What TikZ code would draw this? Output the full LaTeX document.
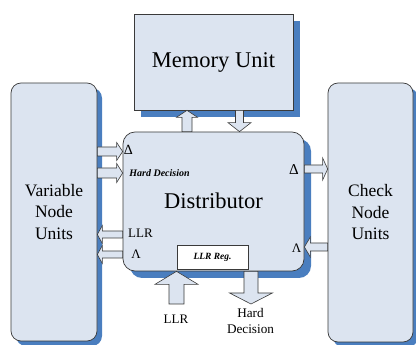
\documentclass[tikz,border=0pt]{standalone}
\usepackage{fontspec}
\setmainfont{Liberation Serif}
\usetikzlibrary{calc,shadows}
\definecolor{boxfill}{HTML}{DCE4F0}
\definecolor{shadowblue}{HTML}{4A7EBF}
\definecolor{edge}{HTML}{3A3A3A}
\tikzset{
  unit/.style={draw=edge, line width=0.7pt, fill=boxfill, inner sep=0pt, align=center,
    drop shadow={shadow xshift=#1, shadow yshift=-#1, fill=shadowblue, opacity=1}},
  unit/.default=6pt,
  regbox/.style={draw=edge, line width=0.6pt, fill=white, inner sep=0pt,
    font=\fontsize{9.5}{11}\selectfont\bfseries\itshape},
  lbl/.style={inner sep=0pt, font=\fontsize{13}{15}\selectfont},
  arrowbody/.style={draw=edge, line width=0.6pt, fill=boxfill, line join=miter},
}
% block arrow: #1 tail, #2 tip, #3 half shaft width, #4 half head width, #5 head length
\newcommand{\blockarrow}[5]{%
  \path ($(#2)!#5!(#1)$) coordinate (ba-c);
  \draw[arrowbody] ($(#1)!#3!90:(#2)$) -- ($(ba-c)!#3!90:(#2)$) -- ($(ba-c)!#4!90:(#2)$)
    -- (#2) -- ($(ba-c)!#4!-90:(#2)$) -- ($(ba-c)!#3!-90:(#2)$) -- ($(#1)!#3!-90:(#2)$) -- cycle;}
\begin{document}
\begin{tikzpicture}[x=1pt,y=-1pt]
\useasboundingbox (0,0) rectangle (416,345);

% main blocks
\node[unit=7pt, minimum width=159pt, minimum height=96pt,
  font=\fontsize{22.5}{27}\selectfont] (mem) at (213.5,62) {Memory Unit};
\node[unit=5pt, rounded corners=10pt, minimum width=86pt, minimum height=258pt,
  font=\fontsize{17.5}{21.5}\selectfont] (vnu) at (54,212) {Variable\\Node\\Units};
\node[unit=5pt, rounded corners=10pt, minimum width=85pt, minimum height=259pt,
  font=\fontsize{17.5}{21.5}\selectfont] (cnu) at (370.5,212.5) {Check\\Node\\Units};
\node[unit=7pt, rounded corners=12pt, minimum width=181pt, minimum height=139pt] (dist) at (213.5,201.5) {};
\node[font=\fontsize{22.5}{27}\selectfont, inner sep=0pt] (distname) at (213.5,201) {Distributor};
\node[regbox, minimum width=71pt, minimum height=24pt] (reg) at (212.5,257) {LLR Reg.};

% arrow end points
\coordinate (upA) at (187,0 |- dist.north);
\coordinate (upB) at (187,0 |- mem.south);
\coordinate (dnA) at (239.5,0 |- mem.south);
\coordinate (dnB) at (239.5,0 |- dist.north);
\coordinate (v1A) at (vnu.east |- 0,151.5);
\coordinate (v1B) at (dist.west |- 0,151.5);
\coordinate (v2A) at (vnu.east |- 0,173);
\coordinate (v2B) at (dist.west |- 0,173);
\coordinate (v3A) at (dist.west |- 0,234.5);
\coordinate (v3B) at (vnu.east |- 0,234.5);
\coordinate (v4A) at (dist.west |- 0,254.5);
\coordinate (v4B) at (vnu.east |- 0,254.5);
\coordinate (c1A) at (dist.east |- 0,169);
\coordinate (c1B) at (cnu.west |- 0,169);
\coordinate (c2A) at (cnu.west |- 0,247);
\coordinate (c2B) at (dist.east |- 0,247);
\coordinate (llrA) at (176.5,304);
\coordinate (llrB) at (176.5,0 |- dist.south);
\coordinate (hdA) at (251,0 |- dist.south);
\coordinate (hdB) at (251,304);

% block arrows
\blockarrow{upA}{upB}{5pt}{10.5pt}{7pt}
\blockarrow{dnA}{dnB}{4pt}{11.5pt}{9pt}
\blockarrow{v1A}{v1B}{4.5pt}{9pt}{6pt}
\blockarrow{v2A}{v2B}{5pt}{9.5pt}{6pt}
\blockarrow{v3A}{v3B}{3.5pt}{9pt}{5pt}
\blockarrow{v4A}{v4B}{3.5pt}{9pt}{5pt}
\blockarrow{c1A}{c1B}{4pt}{11pt}{5pt}
\blockarrow{c2A}{c2B}{4pt}{10pt}{6pt}
\blockarrow{llrA}{llrB}{7.5pt}{21.5pt}{13pt}
\blockarrow{hdA}{hdB}{7pt}{21.5pt}{11pt}

% port labels
\node[lbl, font=\fontsize{14}{16}\selectfont] (dl) at (128.5,150) {Δ};
\node[lbl, font=\fontsize{10}{12}\selectfont\bfseries\itshape] (hdl) at (159.5,173) {Hard Decision};
\node[lbl] (llrl) at (140.5,233.5) {LLR};
\node[lbl] (lal) at (136,254.5) {Λ};
\node[lbl, font=\fontsize{15}{17}\selectfont] (dr) at (294,170) {Δ};
\node[lbl] (lar) at (296.5,248) {Λ};
\node[lbl] (llrin) at (176,319) {LLR};
\node[lbl, align=center, font=\fontsize{13.2}{16}\selectfont] (hdout) at (250.5,321) {Hard\\Decision};
\end{tikzpicture}
\end{document}
